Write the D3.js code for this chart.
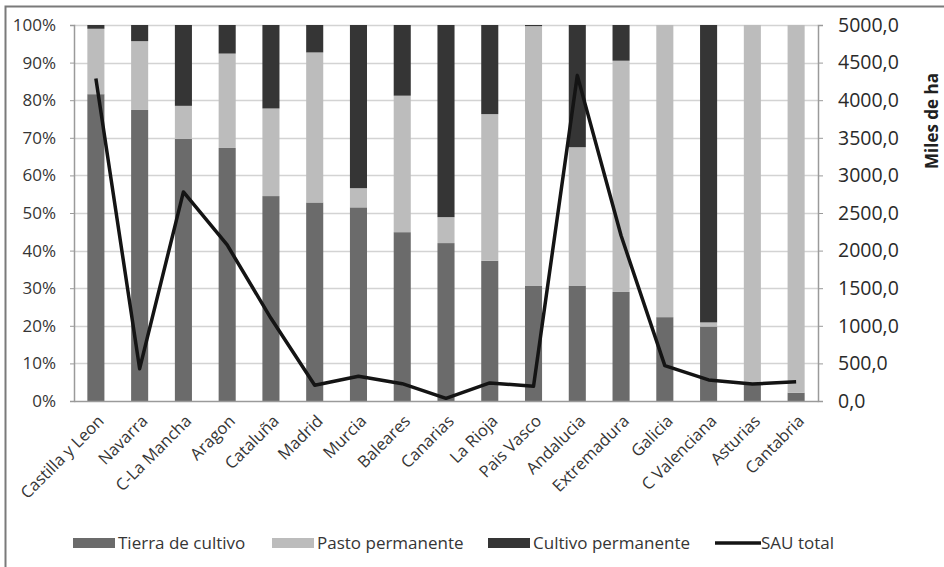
<!DOCTYPE html>
<html>
<head>
<meta charset="utf-8">
<script src="https://cdn.jsdelivr.net/npm/d3@7"></script>
<style>
  html, body { margin: 0; padding: 0; background: #fff; }
  svg { display: block; font-family: "Open Sans", sans-serif; }
</style>
</head>
<body>
<svg id="chart" width="944" height="567"></svg>
<script>
// Regions (comunidades autónomas)
const regions = ["Castilla y Leon", "Navarra", "C-La Mancha", "Aragon", "Cataluña", "Madrid",
  "Murcia", "Baleares", "Canarias", "La Rioja", "Pais Vasco", "Andalucia", "Extremadura",
  "Galicia", "C Valenciana", "Asturias", "Cantabria"];

// Share of each land use (% of SAU)
const tierraCultivo = [81.6, 77.4, 69.7, 67.3, 54.5, 52.8, 51.5, 44.9, 42.0, 37.3, 30.7, 30.7, 29.0, 22.3, 19.8, 4.3, 2.2];
const pastoPermanente = [17.4, 18.3, 8.8, 25.1, 23.3, 39.9, 5.1, 36.3, 6.9, 39.0, 69.0, 36.8, 61.5, 77.7, 1.1, 95.7, 97.8];
const cultivoPermanente = [1.0, 4.3, 21.5, 7.6, 22.2, 7.3, 43.4, 18.8, 51.1, 23.7, 0.3, 32.5, 9.5, 0.0, 79.1, 0.0, 0.0];

// Total SAU (miles de ha)
const sauTotal = [4290, 430, 2780, 2075, 1100, 210, 330, 230, 35, 240, 195, 4330, 2200, 470, 280, 225, 255];

const leftTicks = [0, 10, 20, 30, 40, 50, 60, 70, 80, 90, 100];
const rightTicks = [0, 500, 1000, 1500, 2000, 2500, 3000, 3500, 4000, 4500, 5000];

const seriesNames = ["Tierra de cultivo", "Pasto permanente", "Cultivo permanente"];
const seriesColors = ["#6b6b6b", "#bcbcbc", "#353535"];
const lineName = "SAU total";

const svg = d3.select("#chart");
const W = 944, H = 567;
const plot = { left: 74, right: 818, top: 25, bottom: 401 };
const textColor = "#353535";

// Outer frame of the figure
svg.append("path")
  .attr("d", `M5.5,${H + 2} V6.5 H${W + 2}`)
  .attr("fill", "none")
  .attr("stroke", "#7a7a7a")
  .attr("stroke-width", 2);

const x = d3.scaleBand().domain(regions).range([plot.left, plot.right]).paddingInner(0.61).paddingOuter(0.305);
const yPct = d3.scaleLinear().domain([0, 100]).range([plot.bottom, plot.top]);
const yHa = d3.scaleLinear().domain([0, 5000]).range([plot.bottom, plot.top]);

// Horizontal gridlines
svg.append("g")
  .selectAll("line")
  .data(leftTicks.filter(t => t > 0))
  .join("line")
  .attr("x1", plot.left).attr("x2", plot.right)
  .attr("y1", d => Math.round(yPct(d)) + 0.5).attr("y2", d => Math.round(yPct(d)) + 0.5)
  .attr("stroke", "#d3d3d3").attr("stroke-width", 1.5);

// Stacked bars
const rows = regions.map((r, i) => ({
  region: r,
  "Tierra de cultivo": tierraCultivo[i],
  "Pasto permanente": pastoPermanente[i],
  "Cultivo permanente": cultivoPermanente[i]
}));
const stacked = d3.stack().keys(seriesNames)(rows);

svg.append("g")
  .selectAll("g")
  .data(stacked)
  .join("g")
  .attr("fill", (d, i) => seriesColors[i])
  .selectAll("rect")
  .data(d => d)
  .join("rect")
  .attr("x", d => x(d.data.region))
  .attr("width", x.bandwidth())
  .attr("y", d => yPct(d[1]))
  .attr("height", d => Math.max(0, yPct(d[0]) - yPct(d[1])));

// Left axis (percent)
const leftAxis = svg.append("g")
  .attr("transform", `translate(${plot.left},0)`)
  .call(d3.axisLeft(yPct).tickValues(leftTicks).tickFormat(d => d + "%").tickSize(4).tickPadding(14));
leftAxis.select(".domain").attr("stroke", "#9a9a9a").attr("stroke-width", 1.5);
leftAxis.selectAll(".tick line").attr("stroke", "#9a9a9a");
leftAxis.selectAll("text").attr("font-size", 17).attr("fill", textColor)
  .attr("font-family", "Open Sans, sans-serif");

// Right axis (miles de ha)
const rightAxis = svg.append("g")
  .attr("transform", `translate(${plot.right},0)`)
  .call(d3.axisRight(yHa).tickValues(rightTicks).tickFormat(d => d3.format(".1f")(d).replace(".", ",")).tickSize(5).tickPadding(15));
rightAxis.select(".domain").attr("stroke", "#9a9a9a").attr("stroke-width", 1.5);
rightAxis.selectAll(".tick line").attr("stroke", "#9a9a9a");
rightAxis.selectAll("text").attr("font-size", 19.5).attr("fill", "#2a2a2a")
  .attr("font-family", "Open Sans, sans-serif");

// Bottom axis (regions)
const bottomAxis = svg.append("g")
  .attr("transform", `translate(0,${plot.bottom})`)
  .call(d3.axisBottom(x).tickSize(0).tickPadding(0));
bottomAxis.select(".domain").attr("stroke", "#9a9a9a").attr("stroke-width", 1.5);
bottomAxis.selectAll("text")
  .attr("font-size", 16.5).attr("fill", textColor)
  .attr("font-family", "Open Sans, sans-serif")
  .attr("text-anchor", "end")
  .attr("dy", "0.35em")
  .attr("transform", "translate(5,17) rotate(-45)");

// Right axis title
svg.append("text")
  .attr("transform", `translate(938,121) rotate(-90)`)
  .attr("text-anchor", "middle")
  .attr("font-size", 17).attr("font-weight", "bold").attr("fill", "#202020")
  .text("Miles de ha");

// SAU total line
const line = d3.line()
  .x((d, i) => x(regions[i]) + x.bandwidth() / 2)
  .y(d => yHa(d));
svg.append("path")
  .datum(sauTotal)
  .attr("d", line)
  .attr("fill", "none")
  .attr("stroke", "#141414")
  .attr("stroke-width", 3.5)
  .attr("stroke-linejoin", "round");

// Legend
const legendY = 543;
const legendItems = [
  { name: seriesNames[0], color: seriesColors[0], x: 73, type: "box" },
  { name: seriesNames[1], color: seriesColors[1], x: 272, type: "box" },
  { name: seriesNames[2], color: seriesColors[2], x: 488, type: "box" },
  { name: lineName, color: "#141414", x: 715, type: "line" }
];
const legend = svg.append("g");
legendItems.forEach(it => {
  const g = legend.append("g").attr("transform", `translate(${it.x},${legendY})`);
  if (it.type === "box") {
    g.append("rect").attr("x", 0).attr("y", -5).attr("width", 42).attr("height", 10).attr("fill", it.color);
    g.append("text").attr("x", 45).attr("y", 0).attr("dy", "0.35em")
      .attr("font-size", 17).attr("fill", textColor).text(it.name);
  } else {
    g.append("line").attr("x1", 0).attr("x2", 46).attr("y1", 0).attr("y2", 0)
      .attr("stroke", it.color).attr("stroke-width", 3.5);
    g.append("text").attr("x", 46).attr("y", 0).attr("dy", "0.35em")
      .attr("font-size", 17).attr("fill", textColor).text(it.name);
  }
});
</script>
</body>
</html>
